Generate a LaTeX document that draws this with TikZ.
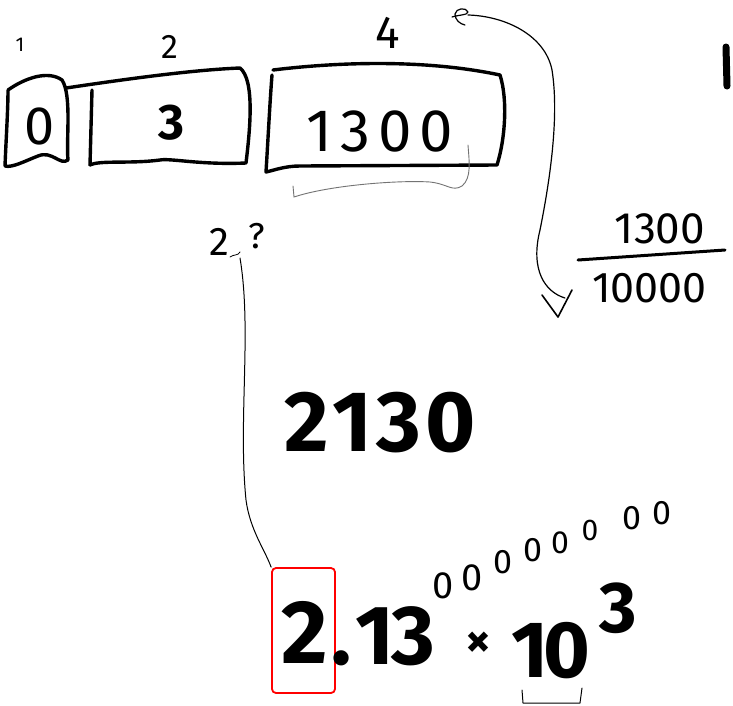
\documentclass[tikz,border=0pt]{standalone}
\usepackage{fontspec}
\setmainfont{Fira Sans}
\newcommand{\fsz}[1]{\fontsize{#1}{#1}\selectfont}
\begin{document}
\begin{tikzpicture}[x=1pt,y=-1pt,
  ink/.style={line width=3.4pt, line cap=round, line join=round},
  pen/.style={line width=1.2pt, line cap=round, line join=round},
  faint/.style={line width=0.9pt, black!55, line cap=round},
  txt/.style={inner sep=0pt, anchor=center},
  heavy/.style={txt, font=\bfseries}]
\useasboundingbox[fill=white] (0,0) rectangle (733,705);

% --- index labels above the cells
\node[txt, font=\fsz{20}] (i1) at (20,45) {1};
\node[txt, font=\fsz{34}] (i2) at (170,47) {2};
\node[txt, font=\fsz{46}] (i4) at (388,33) {4};

% --- first cell
\draw[ink] (8,90) .. controls (25,78) and (48,70) .. (62,80)
  .. controls (72,95) and (66,140) .. (68,160)
  .. controls (60,166) and (52,150) .. (38,156)
  .. controls (25,161) and (12,168) .. (5,166)
  .. controls (6,140) and (8,110) .. (8,90);
\node[txt, font=\fsz{54}] (c1) at (40,126) {0};

% --- second cell
\draw[ink] (66,88) .. controls (120,80) and (190,70) .. (240,68)
  .. controls (255,80) and (250,130) .. (246,163)
  .. controls (200,165) and (170,158) .. (160,160)
  .. controls (130,164) and (100,160) .. (90,165);
\draw[ink] (92,90) -- (90,165);
\node[heavy, font=\bfseries\fsz{50}] (c2) at (171,123) {3};

% --- third cell
\draw[ink] (273,70) .. controls (330,63) and (420,58) .. (500,75)
  .. controls (508,100) and (505,140) .. (497,165)
  -- (300,166) .. controls (285,166) and (275,170) .. (266,172)
  .. controls (268,140) and (270,100) .. (272,75);
\node[txt, font=\fsz{60}] (c3) at (380,131) {1\hspace{8pt}3\hspace{8pt}0\hspace{8pt}0};

% --- thin brace under the third cell
\draw[faint] (293,186) -- (294,197) .. controls (330,185) and (400,180) .. (430,182)
  .. controls (448,184) and (452,192) .. (462,186)
  .. controls (472,178) and (469,160) .. (468,145);

% --- small loop and the long curved arrow to the fraction
\draw[pen] (452,17) .. controls (458,15) and (468,15) .. (468,12)
  .. controls (466,7) and (456,8) .. (455,14) .. controls (455,20) and (460,24) .. (465,25);
\coordinate (loop) at (468,15);
\draw[pen] (loop) .. controls (505,16) and (545,35) .. (552,70)
  .. controls (560,120) and (548,190) .. (540,230)
  .. controls (530,270) and (545,292) .. (565,298);
\draw[pen, line width=1.6pt] (542,295) -- (558,317) -- (572,290);

% --- fraction
\node[txt, font=\fsz{44}] (num) at (660,229) {1300};
\draw[ink, line width=3pt] (578,260) -- (725,250);
\node[txt, font=\fsz{43}, anchor=west] (den) at (592,288) {10000};

% --- stroke at the right edge
\draw[line width=7pt, line cap=round] (726,47) -- (727,86);

% --- 2.? with the thin lead down to the boxed digit
\node[txt, font=\fsz{40}] (q2) at (219,242) {2};
\node[txt, font=\fsz{36}] (qm) at (257,236) {?};
\draw[pen, line width=0.8pt] (230,257) .. controls (234,254) and (238,256) .. (240,252);
\node[draw=red, line width=1.8pt, rounded corners=4pt, minimum width=63pt,
  minimum height=125pt, inner sep=0pt] (rb) at (303.5,630.5) {};
\draw[pen, line width=1pt] (240,258) .. controls (252,330) and (238,420) .. (246,500)
  .. controls (250,530) and (265,550) .. (rb.north west);

% --- 2130
\node[heavy, font=\bfseries\fsz{86}] (n2130) at (380,423) {2\hspace{4pt}1\hspace{4pt}3\hspace{4pt}0};

% --- 2.13 x 10^3
\node[heavy, font=\bfseries\fsz{90}] (d2) at (305,632) {2};
\node[heavy, font=\bfseries\fsz{84}, anchor=base west] (d13) at (331,664) {.\hspace{4pt}1\hspace{-3pt}3};
\node[heavy, font=\bfseries\fsz{50}] (times) at (478,645) {×};
\node[heavy, font=\bfseries\fsz{80}] (ten) at (551,651) {1\hspace{-5pt}0};
\node[heavy, font=\bfseries\fsz{72}] (ex) at (618,608) {3};
\draw[pen, line width=1pt] (522,690) -- (523,703) -- (580,703) -- (582,688);

% --- row of small zeros
\foreach \px/\py/\s in {443/586/38, 472/578/38, 503/562/34, 533/550/34,
  560/543/32, 590/530/30, 632/518/34, 662/513/34}
  \node[txt, font=\fsz{\s}] at (\px,\py) {0};
\end{tikzpicture}
\end{document}
